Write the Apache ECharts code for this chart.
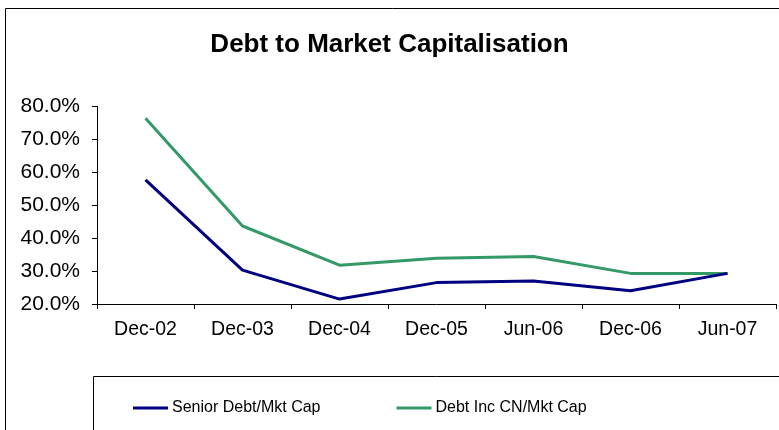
<!DOCTYPE html>
<html>
<head>
<meta charset="utf-8">
<script src="https://cdn.jsdelivr.net/npm/echarts@6/dist/echarts.min.js"></script>
<style>
  html, body { margin: 0; padding: 0; background: #fff; }
  #chart { width: 779px; height: 430px; }
</style>
</head>
<body>
<div id="chart"></div>
<script>
// Reporting periods
const periods = ['Dec-02', 'Dec-03', 'Dec-04', 'Dec-05', 'Jun-06', 'Dec-06', 'Jun-07'];
// Ratios in percent
const seniorDebt = [57.7, 30.3, 21.5, 26.5, 27.0, 24.0, 29.3];
const debtIncCN = [76.4, 43.7, 31.8, 33.9, 34.4, 29.3, 29.3];
const seriesNames = ['Senior Debt/Mkt Cap', 'Debt Inc CN/Mkt Cap'];
const seriesColors = ['#000080', '#339966'];

const font = '"Liberation Sans", Arial, sans-serif';
const chart = echarts.init(document.getElementById('chart'), null, { renderer: 'canvas' });

chart.setOption({
  animation: false,
  backgroundColor: '#ffffff',
  title: {
    text: 'Debt to Market Capitalisation',
    left: 'center',
    top: 27,
    textStyle: { fontFamily: font, fontSize: 26, fontWeight: 'bold', color: '#000' }
  },
  graphic: [
    {
      type: 'rect', silent: true,
      shape: { x: 5.5, y: 8.5, width: 800, height: 500 },
      style: { fill: null, stroke: '#000', lineWidth: 1 }
    },
    {
      type: 'rect', silent: true,
      shape: { x: 93.5, y: 376.5, width: 800, height: 100 },
      style: { fill: null, stroke: '#000', lineWidth: 1 }
    }
  ],
  legend: {
    left: 133,
    top: 400,
    padding: 0,
    itemWidth: 35,
    itemHeight: 3,
    itemGap: 76,
    icon: 'rect',
    textStyle: { fontFamily: font, fontSize: 16, color: '#000', padding: [0, 0, 0, -1] },
    data: seriesNames
  },
  grid: { left: 97, right: 3, top: 106.5, bottom: 126, containLabel: false },
  xAxis: {
    type: 'category',
    data: periods,
    boundaryGap: true,
    axisLine: { lineStyle: { color: '#000', width: 1 } },
    axisTick: { show: true, length: 5, lineStyle: { color: '#000' } },
    axisLabel: { fontFamily: font, fontSize: 19.5, color: '#000', margin: 16 },
    splitLine: { show: false }
  },
  yAxis: {
    type: 'value',
    min: 20,
    max: 80,
    interval: 10,
    axisLine: { show: true, lineStyle: { color: '#000', width: 1 } },
    axisTick: { show: true, length: 5, lineStyle: { color: '#000' } },
    axisLabel: {
      fontFamily: font, fontSize: 21, color: '#000', margin: 17,
      formatter: v => v.toFixed(1) + '%'
    },
    splitLine: { show: false }
  },
  series: [
    {
      name: seriesNames[0], type: 'line', data: seniorDebt,
      symbol: 'none', color: seriesColors[0],
      lineStyle: { width: 3, color: seriesColors[0] }, z: 3
    },
    {
      name: seriesNames[1], type: 'line', data: debtIncCN,
      symbol: 'none', color: seriesColors[1],
      lineStyle: { width: 3, color: seriesColors[1] }, z: 2
    }
  ]
});
</script>
</body>
</html>
